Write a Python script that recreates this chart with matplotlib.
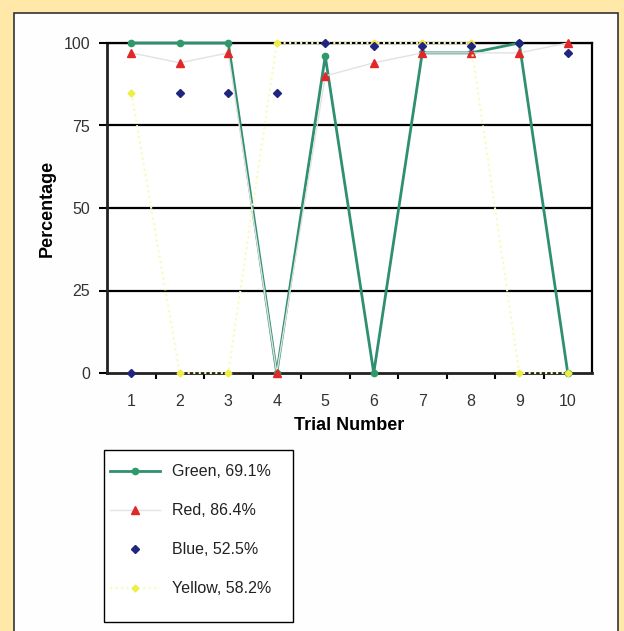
import numpy as np
import matplotlib.pyplot as plt
from matplotlib.patches import Rectangle

plt.rcParams['font.family'] = ['Liberation Sans', 'DejaVu Sans']

# Trial results (percent correct) for each colour
trials = [1, 2, 3, 4, 5, 6, 7, 8, 9, 10]
green = [100, 100, 100, 0, 96, 0, 97, 97, 100, 0]
red = [97, 94, 97, 0, 90, 94, 97, 97, 97, 100]
blue = [0, 85, 85, 85, 100, 99, 99, 99, 100, 97]
yellow = [85, 0, 0, 100, 100, 100, 100, 100, 0, 0]

labels = ["Green, 69.1%", "Red, 86.4%", "Blue, 52.5%", "Yellow, 58.2%"]
yticks = [0, 25, 50, 75, 100]

W, H = 624, 631
fig = plt.figure(figsize=(W / 100, H / 100), dpi=100, facecolor='#FFE8A8')

# white card behind the chart
card = Rectangle((14 / W, -0.02), (618 - 14) / W, (H - 13) / H + 0.02,
                 transform=fig.transFigure, facecolor='#FEFEFE',
                 edgecolor='#333333', lw=1.2, zorder=0)
fig.add_artist(card)

ax = fig.add_axes([107 / W, 1 - 373 / H, (592 - 107) / W, (373 - 43) / H])
ax.set_facecolor('white')

# horizontal grid
for v in yticks[1:]:
    ax.axhline(v, color='black', lw=1.6, zorder=1)

x = np.array(trials)
l_green, = ax.plot(x, green, color='#2F8F72', lw=2, marker='o', ms=4.5,
                   mfc='#2E9A6A', mec='#2E9A6A', zorder=3, clip_on=False)
l_red, = ax.plot(x, red, color='#E2E2E2', lw=1, marker='^', ms=5.5,
                 mfc='#E02828', mec='#E02828', zorder=4, clip_on=False)
l_yellow, = ax.plot(x, yellow, color='#FAFAB8', lw=1.5, ls=':', marker='D',
                    ms=3.5, mfc='#EEEE44', mec='#EEEE44', zorder=4.5,
                    clip_on=False)
l_blue, = ax.plot(x, blue, ls='none', marker='D', ms=4.2,
                  mfc='#1F2580', mec='#1F2580', zorder=5, clip_on=False)

ax.set_xlim(0.5, 10.5)
ax.set_ylim(0, 100)
ax.set_yticks(yticks)
ax.set_xticks(trials)
ax.set_xticks(np.arange(1.5, 10.5, 1), minor=True)

ax.tick_params(axis='y', direction='out', length=6, width=1.5, pad=6,
               labelsize=11.5, labelcolor='#333333')
ax.tick_params(axis='x', which='major', length=0, pad=15,
               labelsize=11.5, labelcolor='#333333')
ax.tick_params(axis='x', which='minor', direction='out', length=4, width=1.5)

for side in ['left', 'bottom']:
    ax.spines[side].set_linewidth(2)
    ax.spines[side].set_color('#222222')
for side in ['right', 'top']:
    ax.spines[side].set_linewidth(1.6)
    ax.spines[side].set_color('black')

ax.set_xlabel("Trial Number", fontsize=13, fontweight='bold', labelpad=6)
ax.set_ylabel("Percentage", fontsize=13, fontweight='bold', labelpad=6)

# legend box drawn on its own so the padding can differ per side
box = Rectangle((104 / W, 1 - 622 / H), (293 - 104) / W, (622 - 450) / H,
                transform=fig.transFigure, facecolor='white',
                edgecolor='black', lw=1, zorder=1)
fig.add_artist(box)

leg = fig.legend([l_green, l_red, l_blue, l_yellow], labels,
                 loc='upper left', bbox_to_anchor=(104 / W, 1 - 458 / H),
                 borderaxespad=0, fontsize=11.5, labelspacing=1.5,
                 handlelength=3.1, handletextpad=0.75, borderpad=0.4,
                 frameon=False)
leg.set_zorder(2)
for t in leg.get_texts():
    t.set_color('#222222')

fig.savefig('out.png', dpi=100, facecolor=fig.get_facecolor())
